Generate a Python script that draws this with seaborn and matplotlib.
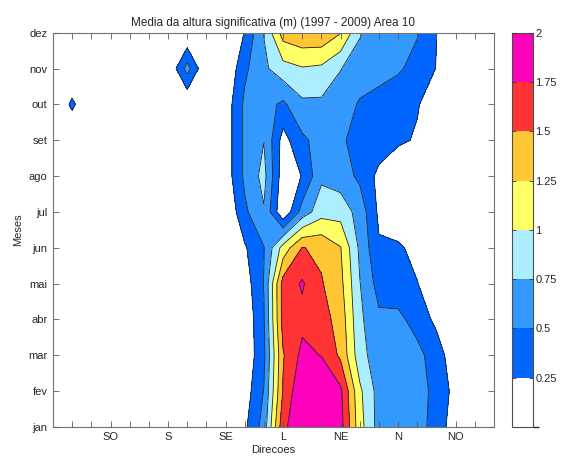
import numpy as np
import matplotlib
matplotlib.use("Agg")
import matplotlib.pyplot as plt
import seaborn as sns
from matplotlib.colors import ListedColormap, BoundaryNorm

# Labels
months = ['jan', 'fev', 'mar', 'abr', 'mai', 'jun', 'jul', 'ago', 'set', 'out', 'nov', 'dez']
directions = ['SO', 'S', 'SE', 'L', 'NE', 'N', 'NO']
direction_bins = [3, 6, 9, 12, 15, 18, 21]
bins = np.arange(24)

# Mean significant wave height (m) per direction bin, one list per month
jan = [0, 0, 0, 0, 0, 0, 0, 0, 0, 0, 0.20, 0.60, 1.68, 1.98, 1.98, 1.85, 1.10, 0.65, 0.60, 0.55, 0.45, 0.05, 0, 0]
fev = [0, 0, 0, 0, 0, 0, 0, 0, 0, 0, 0.12, 0.51, 1.52, 1.98, 1.98, 1.80, 1.05, 0.65, 0.60, 0.57, 0.45, 0.15, 0, 0]
mar = [0, 0, 0, 0, 0, 0, 0, 0, 0, 0, 0.05, 0.45, 1.48, 1.82, 1.74, 1.45, 0.85, 0.60, 0.58, 0.56, 0.40, 0.05, 0, 0]
abr = [0, 0, 0, 0, 0, 0, 0, 0, 0, 0, 0.05, 0.48, 1.60, 1.68, 1.60, 1.40, 0.80, 0.55, 0.55, 0.42, 0.18, 0, 0, 0]
mai = [0, 0, 0, 0, 0, 0, 0, 0, 0, 0, 0.12, 0.51, 1.60, 1.78, 1.52, 1.32, 0.76, 0.40, 0.38, 0.26, 0.05, 0, 0, 0]
jun = [0, 0, 0, 0, 0, 0, 0, 0, 0, 0, 0.22, 0.49, 1.10, 1.51, 1.45, 1.26, 0.70, 0.28, 0.30, 0.15, 0, 0, 0, 0]
jul = [0, 0, 0, 0, 0, 0, 0, 0, 0, 0, 0.45, 0.73, 0.02, 0.60, 0.90, 0.90, 0.65, 0.20, 0, 0, 0, 0, 0, 0]
ago = [0, 0, 0, 0, 0, 0, 0, 0, 0, 0.10, 0.55, 0.83, 0.10, 0.26, 0.70, 0.62, 0.45, 0.18, 0, 0, 0, 0, 0, 0]
setembro = [0, 0, 0, 0, 0, 0, 0, 0, 0, 0.10, 0.55, 0.745, 0.15, 0.45, 0.60, 0.52, 0.45, 0.40, 0.30, 0.22, 0, 0, 0, 0]
out = [0, 0.30, 0, 0, 0, 0, 0, 0, 0, 0.10, 0.55, 0.60, 0.45, 0.70, 0.70, 0.60, 0.48, 0.45, 0.40, 0.27, 0.10, 0, 0, 0]
nov = [0, 0, 0, 0, 0, 0, 0, 0.60, 0, 0, 0.45, 0.70, 0.90, 0.98, 0.95, 0.76, 0.60, 0.55, 0.52, 0.45, 0.24, 0, 0, 0]
dez = [0, 0, 0, 0, 0, 0, 0, 0, 0, 0, 0.26, 0.76, 1.36, 1.45, 1.45, 1.26, 0.78, 0.60, 0.55, 0.51, 0.255, 0, 0, 0]

levels = [0, 0.25, 0.5, 0.75, 1, 1.25, 1.5, 1.75, 2]
level_labels = ['0.25', '0.5', '0.75', '1', '1.25', '1.5', '1.75', '2']
colors = ['#ffffff', '#0066ff', '#3399ff', '#aaeeff', '#ffff66', '#ffc633', '#ff3333', '#ff00bb']

sns.set_theme(style="white")
plt.rcParams['font.family'] = ['Liberation Sans', 'DejaVu Sans']

Z = np.array([jan, fev, mar, abr, mai, jun, jul, ago, setembro, out, nov, dez])
X, Y = np.meshgrid(bins, np.arange(1, 13))

cmap = ListedColormap(sns.color_palette(colors))
norm = BoundaryNorm(levels, cmap.N)

fig = plt.figure(figsize=(5.61, 4.61), dpi=100)
ax = fig.add_axes([0.0945, 0.074, 0.786, 0.855])
cax = fig.add_axes([0.912, 0.074, 0.0374, 0.855])

cf = ax.contourf(X, Y, Z, levels=levels, cmap=cmap, norm=norm)
ax.contour(X, Y, Z, levels=levels[1:], colors='#222222', linewidths=0.6)

ax.set_axisbelow(False)
ax.set_xlim(0, 23)
ax.set_ylim(1, 12)
tick_pos = list(range(1, 23))
tick_lab = [directions[direction_bins.index(p)] if p in direction_bins else '' for p in tick_pos]
ax.set_xticks(tick_pos)
ax.set_xticklabels(tick_lab, fontsize=8)
ax.set_yticks(range(1, 13))
ax.set_yticklabels(months, fontsize=8)
ax.tick_params(direction='in', length=4, width=0.6, color='0.35',
               top=True, right=True, bottom=True, left=True, pad=4)
for s in ax.spines.values():
    s.set_color('0.45')
    s.set_linewidth(0.8)

ax.set_title("Media da altura significativa (m) (1997 - 2009) Area 10", fontsize=8.5, pad=5)
ax.set_xlabel("Direcoes", fontsize=8, labelpad=2)
ax.set_ylabel("Meses", fontsize=8, labelpad=4)

cbar = fig.colorbar(cf, cax=cax, ticks=levels[1:])
cbar.ax.set_axisbelow(False)
cbar.ax.set_yticklabels(level_labels, fontsize=8)
cbar.ax.tick_params(direction='in', length=3, width=0.6, left=True, right=True, color='0.2', pad=2)
cbar.outline.set_edgecolor('0.3')
cbar.outline.set_linewidth(0.8)

fig.savefig('out.png', dpi=100)
